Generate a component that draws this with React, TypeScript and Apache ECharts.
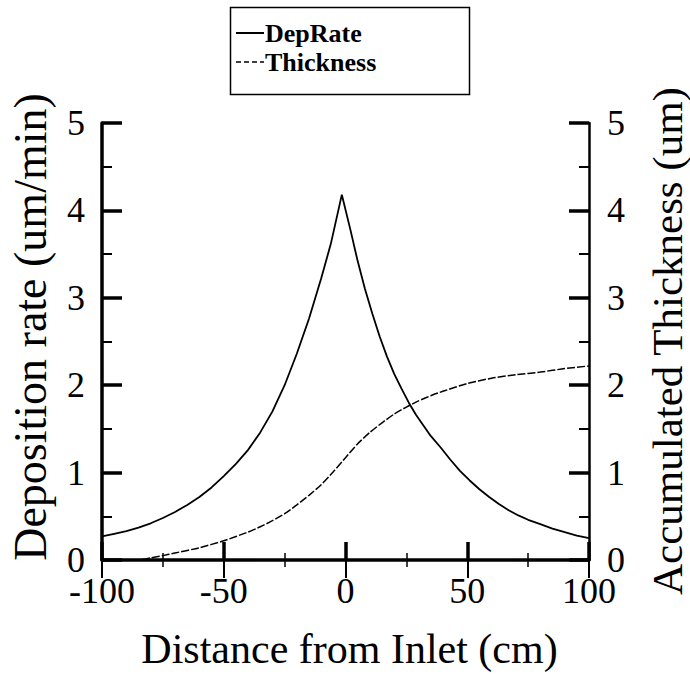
import React, { useEffect, useRef } from "react";
import * as echarts from "echarts";

const depRateX = [-100, -95, -90, -85, -80, -75, -70, -65, -60, -55, -50, -45, -40, -35, -30, -25, -20, -15, -10, -6, -1.5, 2, 5, 8, 11, 14, 17, 20, 23, 26, 29, 32, 35, 39, 43, 47, 51, 55, 59, 63, 67, 71, 75, 80, 85, 90, 95, 100];
const depRateY = [0.27, 0.30, 0.33, 0.37, 0.42, 0.48, 0.55, 0.63, 0.72, 0.83, 0.96, 1.10, 1.26, 1.46, 1.70, 2.00, 2.36, 2.76, 3.22, 3.62, 4.18, 3.78, 3.42, 3.10, 2.82, 2.56, 2.33, 2.13, 1.96, 1.80, 1.66, 1.54, 1.42, 1.29, 1.15, 1.02, 0.91, 0.81, 0.72, 0.64, 0.57, 0.51, 0.46, 0.41, 0.36, 0.32, 0.28, 0.25];

const thickX = [-100, -85, -80, -75, -70, -60, -50, -40, -35, -30, -25, -20, -15, -10, -5, 0, 5, 10, 15, 20, 25, 30, 35, 40, 50, 60, 70, 80, 90, 100];
const thickY = [0, 0, 0.025, 0.05, 0.08, 0.14, 0.22, 0.32, 0.38, 0.45, 0.53, 0.63, 0.74, 0.86, 1.01, 1.17, 1.33, 1.46, 1.57, 1.67, 1.75, 1.82, 1.88, 1.93, 2.02, 2.08, 2.12, 2.15, 2.19, 2.22];

const seriesNames = ["DepRate", "Thickness"];
const xTitle = "Distance from Inlet (cm)";
const yLeftTitle = "Deposition rate (um/min)";
const yRightTitle = "Accumulated Thickness (um)";

const FONT = "'Liberation Serif', 'Times New Roman', serif";

export default function App() {
  const ref = useRef<HTMLDivElement>(null);
  useEffect(() => {
    if (!ref.current) return;
    const chart = echarts.init(ref.current, undefined, { renderer: "svg" });
    const labelStyle = { color: "#000", fontFamily: FONT, fontSize: 36, lineHeight: 26 };
    const majorTick = (len: number, w: number) => ({ show: true, inside: true, length: len, lineStyle: { color: "#000", width: w } });
    const minorTick = (len: number, w: number) => ({ show: true, splitNumber: 2, length: len, lineStyle: { color: "#000", width: w } });
    chart.setOption({
      animation: false,
      backgroundColor: "#fff",
      textStyle: { fontFamily: FONT },
      grid: { left: 102, right: 101, top: 123, bottom: 121 },
      legend: {
        orient: "vertical",
        left: 231,
        top: 15,
        itemWidth: 28,
        itemHeight: 10,
        itemGap: 3,
        data: [
          { name: seriesNames[0], icon: "path://M0,0h28v2h-28z" },
          { name: seriesNames[1], icon: "path://M0,0h5v1.6h-5zM8,0h5v1.6h-5zM16,0h5v1.6h-5zM24,0h4v1.6h-4z" },
        ],
        textStyle: { color: "#000", fontFamily: FONT, fontWeight: "bold", fontSize: 26, padding: [0, 0, 0, -4] },
      },
      graphic: [
        { type: "rect", left: 228, top: 5, shape: { width: 239, height: 87 }, style: { fill: "none", stroke: "#000", lineWidth: 1.5 } },
        {
          type: "text", x: 30, y: 327, rotation: Math.PI / 2,
          style: { text: yLeftTitle, fill: "#000", font: `46px ${FONT}`, align: "center", verticalAlign: "middle" },
        },
        {
          type: "text", x: 667, y: 341, rotation: Math.PI / 2,
          style: { text: yRightTitle, fill: "#000", font: `43px ${FONT}`, align: "center", verticalAlign: "middle" },
        },
      ],
      xAxis: [
        {
          type: "value", min: -100, max: 100, interval: 50, position: "bottom",
          name: xTitle, nameLocation: "middle", nameGap: 68,
          nameTextStyle: { color: "#000", fontFamily: FONT, fontSize: 42, padding: [0, 0, 0, 8] },
          axisLine: { show: true, lineStyle: { color: "#000", width: 3.5 } },
          axisTick: majorTick(18, 3.5),
          minorTick: minorTick(7, 1.5),
          axisLabel: { ...labelStyle, margin: 18, showMinLabel: true, showMaxLabel: true },
          splitLine: { show: false },
        },
        {
          type: "value", min: -100, max: 100, interval: 50, position: "top",
          axisLine: { show: true, lineStyle: { color: "#000", width: 2 } },
          axisTick: majorTick(18, 2),
          minorTick: minorTick(7, 1.5),
          axisLabel: { show: false },
          splitLine: { show: false },
        },
      ],
      yAxis: [
        {
          type: "value", min: 0, max: 5, interval: 1, position: "left",
          axisLine: { show: true, onZero: false, lineStyle: { color: "#000", width: 3.5 } },
          axisTick: majorTick(20, 3.5),
          minorTick: minorTick(10, 2),
          axisLabel: { ...labelStyle, margin: 17 },
          splitLine: { show: false },
        },
        {
          type: "value", min: 0, max: 5, interval: 1, position: "right",
          axisLine: { show: true, onZero: false, lineStyle: { color: "#000", width: 2.5 } },
          axisTick: majorTick(20, 3.5),
          minorTick: minorTick(10, 2),
          axisLabel: { ...labelStyle, margin: 18 },
          splitLine: { show: false },
        },
      ],
      series: [
        {
          name: seriesNames[0], type: "line", xAxisIndex: 0, yAxisIndex: 0,
          data: depRateX.map((x, i) => [x, depRateY[i]]),
          symbol: "none", smooth: false,
          lineStyle: { color: "#000", width: 1.8 },
          itemStyle: { color: "#000" },
        },
        {
          name: seriesNames[1], type: "line", xAxisIndex: 0, yAxisIndex: 1,
          data: thickX.map((x, i) => [x, thickY[i]]),
          symbol: "none", smooth: 0.2,
          lineStyle: { color: "#000", width: 1.5, type: [8, 2] },
          itemStyle: { color: "#000" },
        },
      ],
    });
    return () => chart.dispose();
  }, []);
  return <div ref={ref} style={{ width: 690, height: 681, position: "absolute", left: 0, top: 0 }} />;
}
